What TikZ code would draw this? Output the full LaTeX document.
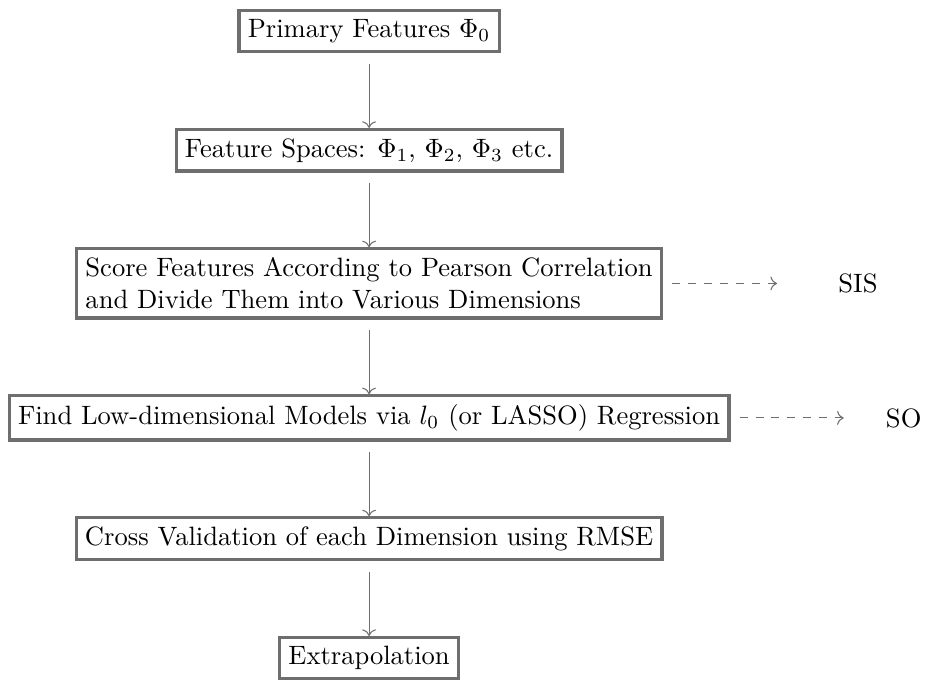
\documentclass[tikz,border=0pt]{standalone}
\usepackage{xcolor}
\usepackage{tikz}
\usetikzlibrary{arrows.meta,positioning}
\definecolor{boxline}{HTML}{6E6E6E}

\begin{document}
\begin{tikzpicture}[
  node distance=28.1pt and 12mm,
  stage/.style={draw=boxline,very thick,fill=white,align=left},
  tag/.style={inner sep=3.33pt},
  flow/.style={->,draw=boxline,shorten <=4pt},
  side/.style={->,dashed,draw=boxline,shorten <=3.4pt}
]
\useasboundingbox (-139pt,11.7pt) rectangle (210.5pt,-245.2pt);
\node[stage] (primary) {Primary Features $\Phi_0$};
\node[stage,below=of primary] (spaces) {Feature Spaces: $\Phi_1$, $\Phi_2$, $\Phi_3$ etc.};
\node[stage,below=of spaces] (score) {Score Features According to Pearson Correlation\\and Divide Them into Various Dimensions};
\node[stage,below=of score] (find) {Find Low-dimensional Models via $l_0$ (or LASSO) Regression};
\node[stage,below=of find] (cross) {Cross Validation of each Dimension using RMSE};
\node[stage,below=of cross] (extra) {Extrapolation};
\node[tag,right=62.5pt of score.east,anchor=west] (sis) {SIS};
\node[tag,right=55pt of find.east,anchor=west] (so) {SO};
\draw[flow] (primary) -- (spaces);
\draw[flow] (spaces) -- (score);
\draw[flow] (score) -- (find);
\draw[flow] (find) -- (cross);
\draw[flow] (cross) -- (extra);
\draw[side,shorten >=19.6pt] (score) -- (sis);
\draw[side,shorten >=12.4pt] (find) -- (so);
\end{tikzpicture}
\end{document}
